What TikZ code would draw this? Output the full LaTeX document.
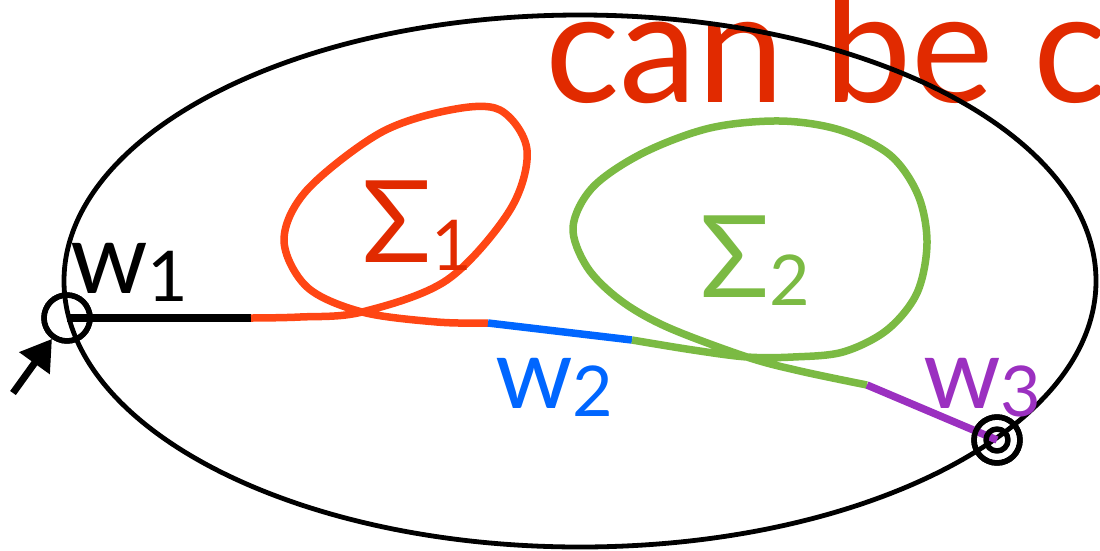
\documentclass[tikz,border=0pt]{standalone}
\usepackage{fontspec}
\setmainfont{Lato}
\usetikzlibrary{arrows.meta}

\definecolor{txtred}{HTML}{E12A00}
\definecolor{loopred}{HTML}{FF4614}
\definecolor{wblue}{HTML}{0066FF}
\definecolor{sgreen}{HTML}{7BBA43}
\definecolor{wpurple}{HTML}{9B30C0}

\newcommand\subtxt[2]{#1\raisebox{-8pt}{\fontsize{70}{70}\selectfont #2}}

\begin{document}
\begin{tikzpicture}[x=1pt,y=-1pt,line join=round,
  seg/.style={line width=7.5pt},
  lbl/.style={anchor=base west,inner sep=0pt,font=\fontsize{99}{99}\selectfont},
  sig/.style={anchor=base west,inner sep=0pt,font=\fontsize{114}{114}\selectfont},
  ring/.style={circle,draw,line width=5.5pt,inner sep=0pt,minimum size=#1},
]
\useasboundingbox (0,0) rectangle (1100,550);
\clip (0,0) rectangle (1100,550);

\node[anchor=base west,inner sep=0pt,txtred,font=\fontsize{156}{156}\selectfont]
  (head) at (545,102) {can be c};

\draw[line width=4.8pt] (580,281) ellipse [x radius=516pt,y radius=266pt];

% junctions along the path
\coordinate (a) at (251,318);
\coordinate (b) at (488,323);
\coordinate (c) at (632,340);
\coordinate (d) at (867,385);
\coordinate (tail) at (13,393);

\node[ring=46pt] (w1) at (67,318) {};
\node[ring=46pt] (w3) at (997,440) {};

\draw[seg] (w1.center) -- (a);
\draw[seg,loopred] plot[smooth,tension=0.55] coordinates {(a) (300,317) (362,312)
  (447,280) (510,210) (527,150) (500,110) (450,110) (380,133) (307,190) (284,240)
  (307,287) (362,312) (437,322) (b)};
\draw[seg,wblue] (b) -- (c);
\draw[seg,sgreen] plot[smooth,tension=0.55] coordinates {(c) (693,350) (747,357)
  (793,357) (843,352) (887,330) (917,293) (927,243) (918,195) (890,155) (840,130)
  (780,121) (710,128) (643,153) (593,187) (573,227) (587,267) (620,300) (667,327)
  (747,357) (800,371) (d)};
\draw[seg,wpurple] (d) -- (w3.center);

\node[ring=46pt] at (w1) {};
\node[ring=46pt] at (w3) {};
\node[ring=22pt] (w3in) at (w3) {};

\draw[line width=7pt,-{Triangle[length=30pt,width=36pt]}] (tail) -- (w1);

\node[lbl] (lw1) at (70,293) {\subtxt{w}{1}};
\node[lbl,wblue] (lw2) at (495,408) {\subtxt{w}{2}};
\node[lbl,wpurple] (lw3) at (923,408) {\subtxt{w}{3}};
\node[sig,txtred] (ls1) at (362,262) {\subtxt{Σ}{1}};
\node[sig,sgreen] (ls2) at (700,297) {\subtxt{Σ}{2}};

\end{tikzpicture}
\end{document}
